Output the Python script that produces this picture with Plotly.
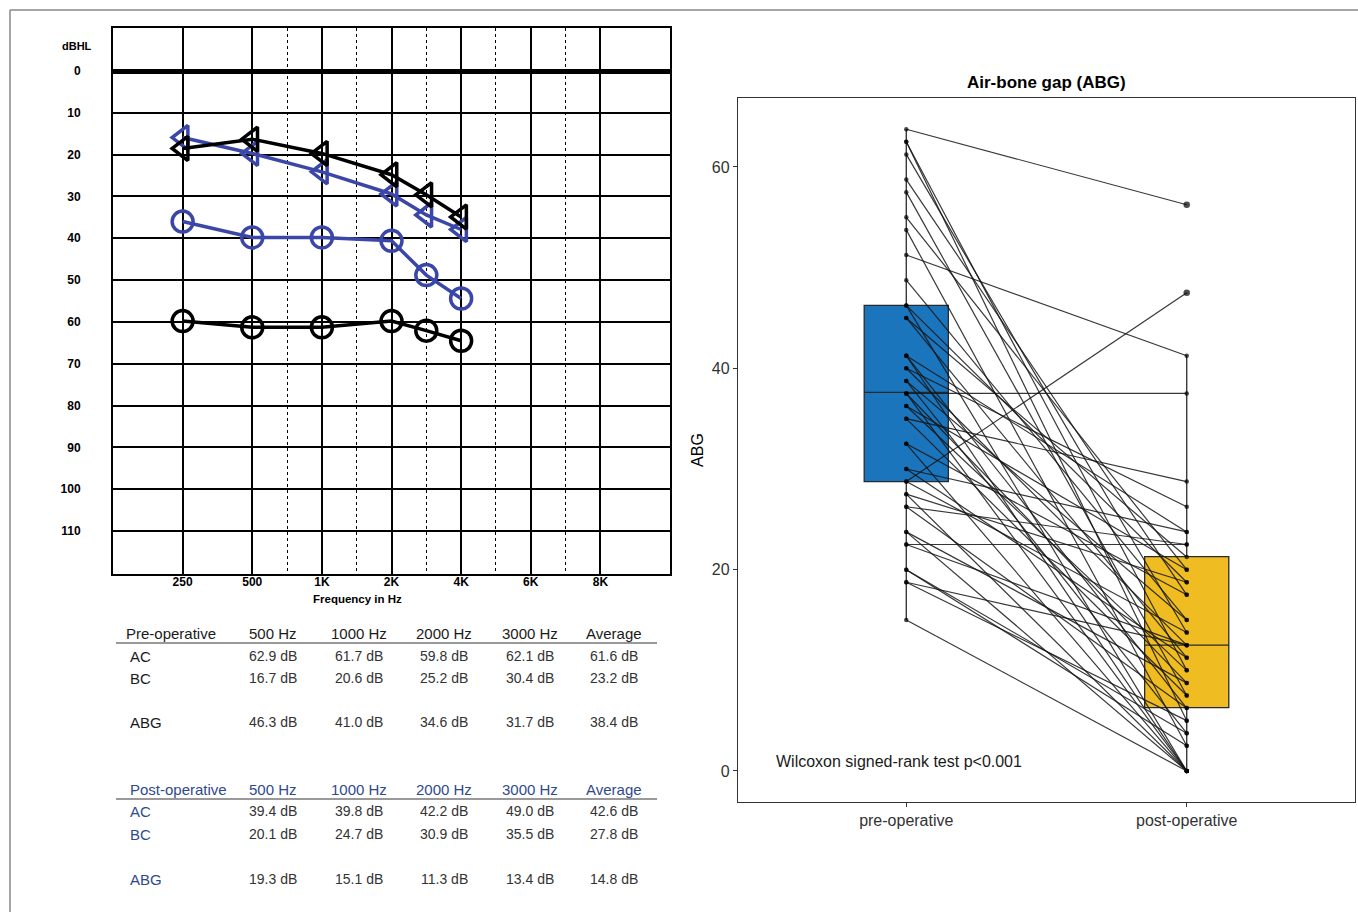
import numpy as np
import plotly.graph_objects as go

W, H = 1358, 912

# ---------------- Audiogram data ----------------
tick_freqs = [250, 500, 1000, 2000, 4000, 6000, 8000]
tick_labels = ["250", "500", "1K", "2K", "4K", "6K", "8K"]
mid_freqs = [750, 1500, 3000, 5000, 7000]
db_ticks = list(range(0, 120, 10))
test_freqs = [250, 500, 1000, 2000, 3000, 4000]
pre_ac_curve = [59.8, 61.3, 61.3, 59.8, 62.1, 64.5]
pre_bc_curve = [18.5, 16.3, 19.7, 24.8, 29.6, 34.9]
post_ac_curve = [36.0, 39.8, 39.8, 40.6, 48.8, 54.4]
post_bc_curve = [15.9, 19.7, 24.1, 29.4, 34.4, 37.9]

# ---------------- Table data ----------------
table_cols = ["500 Hz", "1000 Hz", "2000 Hz", "3000 Hz", "Average"]
row_labels = ["AC", "BC", "ABG"]
pre_ac_tbl = [62.9, 61.7, 59.8, 62.1, 61.6]
pre_bc_tbl = [16.7, 20.6, 25.2, 30.4, 23.2]
pre_abg_tbl = [46.3, 41.0, 34.6, 31.7, 38.4]
post_ac_tbl = [39.4, 39.8, 42.2, 49.0, 42.6]
post_bc_tbl = [20.1, 24.7, 30.9, 35.5, 27.8]
post_abg_tbl = [19.3, 15.1, 11.3, 13.4, 14.8]

# ---------------- ABG paired data ----------------
groups = ["pre-operative", "post-operative"]
abg_pre = [63.75, 62.5, 62.5, 61.25, 58.75, 57.5, 55, 53.75, 51.25, 48.75,
           46.25, 46.25, 45, 45, 41.25, 41.25, 41.25, 40, 40, 38.75,
           38.75, 37.5, 37.5, 37.5, 36.25, 36.25, 35, 35, 32.5, 32.5,
           30, 30, 28.75, 28.75, 27.5, 27.5, 26.25, 26.25, 23.75, 23.75,
           22.5, 22.5, 20, 20, 18.75, 18.75, 15]
abg_post = [56.25, 10, 5, 13.75, 17.5, 7.5, 20, 2.5, 41.25, 15,
            0, 18.75, 11.25, 21.25, 6.25, 23.75, 0, 12.5, 26.25, 3.75,
            15, 37.5, 8.75, 0, 20, 10, 28.75, 7.5, 17.5, 0,
            23.75, 11.25, 47.5, 13.75, 0, 18.75, 6.25, 22.5, 8.75, 0,
            22.5, 12.5, 2.5, 3.75, 5, 12.5, 0]
box_q1 = [28.75, 6.3]
box_median = [37.6, 12.5]
box_q3 = [46.25, 21.3]
box_low = [15, 0]
box_high = [63.75, 41.25]

BLUE = "#3b47a8"
LBL_FONT = "Liberation Sans, Arial, sans-serif"
TBL_FONT = "Liberation Sans Narrow, Arial Narrow, Liberation Sans, Arial, sans-serif"


def px_x(p):
    return p / W


def px_y(p):
    return 1 - p / H


def fpos(f):
    return np.interp(f, tick_freqs, np.arange(1, len(tick_freqs) + 1))


fig = go.Figure()

# ---- audiogram traces ----
curves = [
    (post_ac_curve, BLUE, "circle-open"),
    (post_bc_curve, BLUE, "triangle-left-open"),
    (pre_ac_curve, "black", "circle-open"),
    (pre_bc_curve, "black", "triangle-left-open"),
]
for vals, col, sym in curves:
    fig.add_trace(go.Scatter(
        x=fpos(test_freqs), y=vals, mode="lines+markers",
        line=dict(color=col, width=3.5),
        marker=dict(symbol=sym, size=21, color=col, line=dict(color=col, width=3.5)),
        xaxis="x", yaxis="y", showlegend=False, hoverinfo="skip"))

# ---- ABG boxes ----
box_colors = ["#1b75bc", "#efbd22"]
for i in range(2):
    fig.add_trace(go.Box(
        x=[i + 1], q1=[box_q1[i]], median=[box_median[i]], q3=[box_q3[i]],
        lowerfence=[box_low[i]], upperfence=[box_high[i]],
        width=0.3, whiskerwidth=0, fillcolor=box_colors[i],
        line=dict(color="#2a2a2a", width=1.3), boxpoints=False,
        xaxis="x2", yaxis="y2", showlegend=False, hoverinfo="skip"))

# ---- paired lines ----
lx, ly = [], []
for a, b in zip(abg_pre, abg_post):
    lx += [1, 2, None]
    ly += [a, b, None]
fig.add_trace(go.Scatter(x=lx, y=ly, mode="lines",
                         line=dict(color="rgba(20,20,20,0.85)", width=1.2),
                         xaxis="x2", yaxis="y2", showlegend=False, hoverinfo="skip"))
pts_x = [1] * len(abg_pre) + [2] * len(abg_post)
pts_y = list(abg_pre) + list(abg_post)
sizes = [6.5 if (v > box_high[1] and i >= len(abg_pre)) else 4.5 for i, v in enumerate(pts_y)]
fig.add_trace(go.Scatter(x=pts_x, y=pts_y, mode="markers",
                         marker=dict(color="black", size=sizes, line=dict(width=0, color="black")),
                         xaxis="x2", yaxis="y2", showlegend=False, hoverinfo="skip"))

annotations = []
shapes = []


def ann(text, x, y, size, color, family=LBL_FONT, xanchor="center", xref="paper", yref="paper"):
    annotations.append(dict(text=text, x=x, y=y, xref=xref, yref=yref, xanchor=xanchor,
                            yanchor="middle", showarrow=False,
                            font=dict(family=family, size=size, color=color)))


# audiogram labels
ann("<b>dBHL</b>", px_x(77), px_y(46), 11, "black")
ann("<b>Frequency in Hz</b>", px_x(357), px_y(599), 11.5, "black")

# tables
col_x = [273, 359, 444, 530, 614]


def add_table(title, rows, header_y, line_y, row_ys, label_color, title_x):
    ann(title, px_x(title_x), px_y(header_y), 15, label_color, TBL_FONT, "left")
    for c, cx in zip(table_cols, col_x):
        ann(c, px_x(cx), px_y(header_y), 15, label_color, TBL_FONT)
    shapes.append(dict(type="line", xref="paper", yref="paper", x0=px_x(116), x1=px_x(657),
                       y0=px_y(line_y), y1=px_y(line_y), line=dict(color="#777", width=1.5)))
    for lab, vals, ry in zip(row_labels, rows, row_ys):
        ann(lab, px_x(128), px_y(ry), 15, label_color, TBL_FONT, "left")
        for v, cx in zip(vals, col_x):
            ann(f"{v:.1f} dB", px_x(cx), px_y(ry), 14, "#333", TBL_FONT)


add_table("Pre-operative", [pre_ac_tbl, pre_bc_tbl, pre_abg_tbl], 633, 643,
          [656, 678, 722], "#1a1a1a", 124)
add_table("Post-operative", [post_ac_tbl, post_bc_tbl, post_abg_tbl], 789, 799,
          [811, 834, 879], "#2f4a8c", 128)

# ABG chart texts
ann("<b>Air-bone gap (ABG)</b>", px_x(1046), px_y(82), 17, "black")
ann("Wilcoxon signed-rank test p<0.001", 0.53, 0.9, 16, "#1a1a1a", LBL_FONT, "left", "x2", "y2")

# outer frame
shapes.append(dict(type="line", xref="paper", yref="paper", x0=px_x(10), x1=1,
                   y0=px_y(10), y1=px_y(10), line=dict(color="#888", width=1.5)))
shapes.append(dict(type="line", xref="paper", yref="paper", x0=px_x(10), x1=px_x(10),
                   y0=px_y(10), y1=0, line=dict(color="#888", width=1.5)))

fig.update_layout(
    width=W, height=H, autosize=False,
    margin=dict(l=0, r=0, t=0, b=0),
    paper_bgcolor="white", plot_bgcolor="white",
    showlegend=False,
    annotations=annotations, shapes=shapes,
    xaxis=dict(domain=[px_x(113), px_x(670)], range=[0, 8],
               tickvals=list(fpos(tick_freqs)), ticktext=tick_labels,
               tickfont=dict(family=LBL_FONT, size=12, color="black", weight="bold"),
               ticklabelstandoff=-4,
               showgrid=True, gridcolor="black", gridwidth=2, zeroline=False,
               minor=dict(tickvals=list(fpos(mid_freqs)), showgrid=True, gridcolor="black",
                          griddash="dot", gridwidth=1),
               showline=True, mirror=True, linecolor="black", linewidth=2, anchor="y"),
    yaxis=dict(domain=[px_y(574), px_y(28)], range=[120.3, -10.3],
               tickvals=db_ticks, ticktext=[str(v) for v in db_ticks],
               tickfont=dict(family=LBL_FONT, size=12, color="black", weight="bold"),
               ticklabelstandoff=28,
               showgrid=True, gridcolor="black", gridwidth=2,
               zeroline=True, zerolinecolor="black", zerolinewidth=5,
               showline=True, mirror=True, linecolor="black", linewidth=2, anchor="x"),
    xaxis2=dict(domain=[px_x(738), px_x(1355)], range=[0.4, 2.6],
                tickvals=[1, 2], ticktext=groups, ticks="outside", ticklen=4,
                tickcolor="#333", tickfont=dict(family=LBL_FONT, size=16, color="#333"),
                showgrid=False, zeroline=False, showline=True, mirror=True,
                linecolor="#333", linewidth=1.3, anchor="y2"),
    yaxis2=dict(domain=[px_y(802), px_y(98)], range=[-3.08, 66.85],
                tickvals=[0, 20, 40, 60], ticks="outside", ticklen=4, tickcolor="#333",
                tickfont=dict(family=LBL_FONT, size=16, color="#333"),
                title=dict(text="ABG", font=dict(family=LBL_FONT, size=16, color="black"),
                           standoff=4),
                showgrid=False, zeroline=False, showline=True, mirror=True,
                linecolor="#333", linewidth=1.3, anchor="x2"),
)

fig.write_html("out.html")
